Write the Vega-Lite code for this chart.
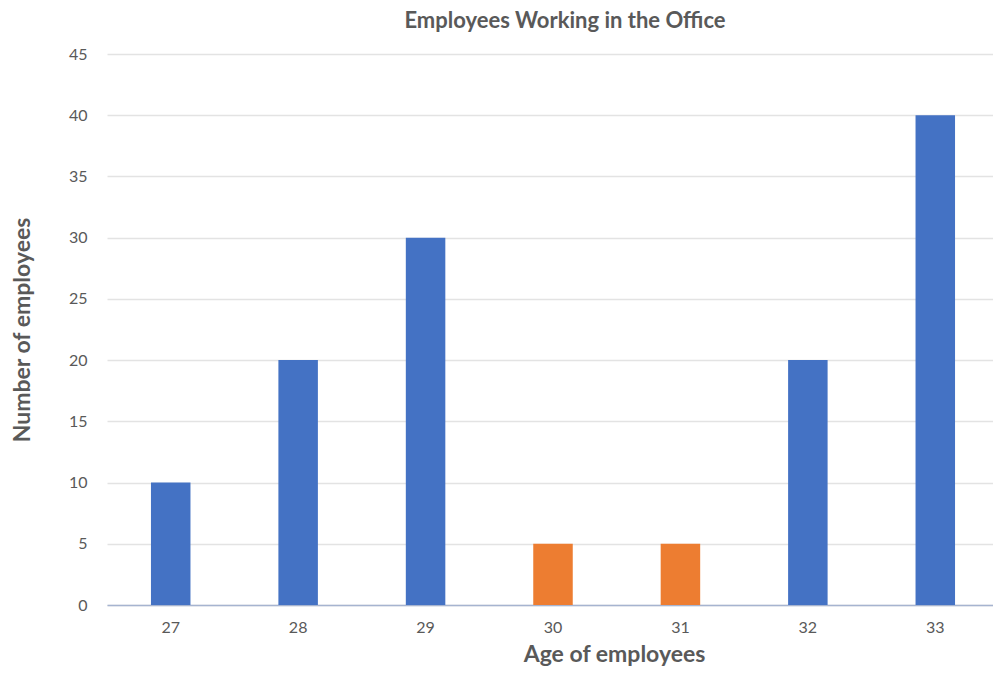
{
  "$schema": "https://vega.github.io/schema/vega-lite/v6.json",
  "width": 892,
  "height": 551,
  "autosize": {"type": "none"},
  "padding": {"left": 107, "top": 54, "right": 0, "bottom": 70},
  "background": "white",
  "title": {
    "text": "Employees Working in the Office",
    "font": "Lato",
    "fontSize": 22,
    "fontWeight": "bold",
    "color": "#595959",
    "anchor": "middle",
    "dx": 12,
    "offset": 13
  },
  "data": {
    "values": [
      {"age": "27", "employees": 10, "group": "main"},
      {"age": "28", "employees": 20, "group": "main"},
      {"age": "29", "employees": 30, "group": "main"},
      {"age": "30", "employees": 5, "group": "highlight"},
      {"age": "31", "employees": 5, "group": "highlight"},
      {"age": "32", "employees": 20, "group": "main"},
      {"age": "33", "employees": 40, "group": "main"}
    ]
  },
  "config": {
    "view": {"stroke": null},
    "axis": {"labelFont": "Lato", "titleFont": "Lato", "labelColor": "#595959", "titleColor": "#595959"}
  },
  "mark": {"type": "bar"},
  "encoding": {
    "x": {
      "field": "age",
      "type": "ordinal",
      "sort": null,
      "scale": {"paddingInner": 0.69, "paddingOuter": 0.345},
      "axis": {
        "title": "Age of employees",
        "titleFontSize": 23,
        "titleFontWeight": "bold",
        "titleX": 507,
        "titlePadding": 8,
        "labelAngle": 0,
        "labelFontSize": 16,
        "labelPadding": 14,
        "ticks": false,
        "domainColor": "#A6B4D0",
        "domainWidth": 1.5
      }
    },
    "y": {
      "field": "employees",
      "type": "quantitative",
      "scale": {"domain": [0, 45]},
      "axis": {
        "title": "Number of employees",
        "titleFontSize": 23,
        "titleFontWeight": "bold",
        "titlePadding": 34,
        "values": [0, 5, 10, 15, 20, 25, 30, 35, 40, 45],
        "labelFontSize": 16,
        "labelPadding": 20,
        "ticks": false,
        "domain": false,
        "gridColor": "#E3E3E3",
        "gridWidth": 1.5
      }
    },
    "color": {
      "field": "group",
      "type": "nominal",
      "scale": {"domain": ["main", "highlight"], "range": ["#4472C4", "#ED7D31"]},
      "legend": null
    }
  }
}
